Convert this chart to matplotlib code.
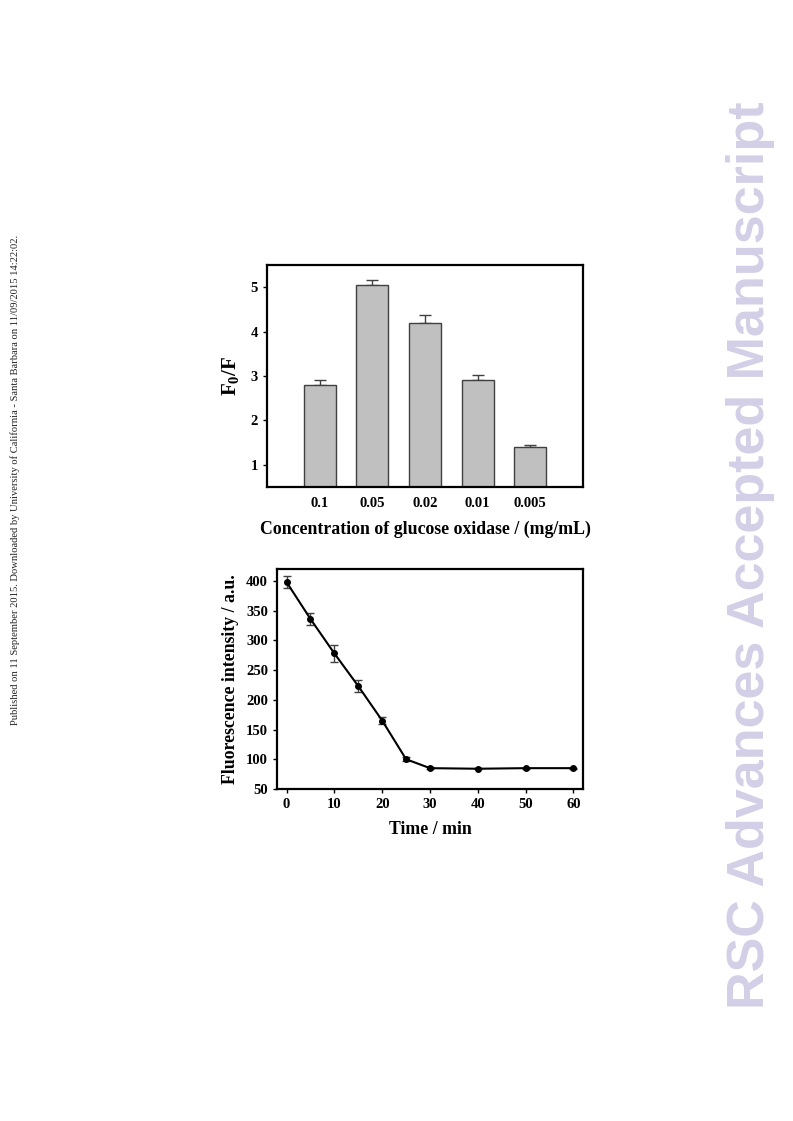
import matplotlib
matplotlib.use("Agg")
import matplotlib.pyplot as plt
import numpy as np

# bar chart data (top panel)
conc_labels = ["0.1", "0.05", "0.02", "0.01", "0.005"]
ratio = [2.8, 5.05, 4.2, 2.9, 1.4]
ratio_err = [0.1, 0.12, 0.17, 0.13, 0.05]

# time course data (bottom panel)
time_min = [0, 5, 10, 15, 20, 25, 30, 40, 50, 60]
intensity = [398, 336, 278, 223, 165, 100, 85, 84, 85, 85]
intensity_err = [10, 10, 14, 10, 6, 3, 2, 1, 1, 1]

plt.rcParams['font.family'] = ['Liberation Serif', 'DejaVu Serif']
plt.rcParams['font.weight'] = 'bold'
plt.rcParams['mathtext.fontset'] = 'custom'
plt.rcParams['mathtext.rm'] = 'Liberation Serif:bold'
plt.rcParams['mathtext.it'] = 'Liberation Serif:bold'
plt.rcParams['mathtext.bf'] = 'Liberation Serif:bold'

fig = plt.figure(figsize=(7.93, 11.21), dpi=100)

# top panel: bars
ax1 = fig.add_axes([0.3367, 0.5656, 0.3985, 0.198])
x = np.arange(len(ratio))
ax1.bar(x, ratio, width=0.61, color='#c0c0c0', edgecolor='#404040', linewidth=1.0, zorder=2)
ax1.errorbar(x, ratio, yerr=[np.zeros(len(ratio_err)), ratio_err], fmt='none',
             ecolor='#404040', elinewidth=1.0, capsize=4, capthick=1.0, zorder=1)
ax1.set_xlim(-1, 5)
ax1.set_ylim(0.5, 5.5)
ax1.set_yticks([1, 2, 3, 4, 5])
ax1.set_xticks(x)
ax1.set_xticklabels(conc_labels)
ax1.tick_params(axis='x', length=0, pad=7, labelsize=10.5)
ax1.tick_params(axis='y', direction='out', length=3, width=1, labelsize=10.5)
ax1.set_xlabel('Concentration of glucose oxidase / (mg/mL)', fontsize=12.8, fontweight='bold', labelpad=8)
ax1.set_ylabel(r'F$_0$/F', fontsize=15, fontweight='bold', labelpad=7)
for s in ax1.spines.values():
    s.set_linewidth(1.6)

# bottom panel: time course
ax2 = fig.add_axes([0.3493, 0.2962, 0.3859, 0.1962])
ax2.errorbar(time_min, intensity, yerr=intensity_err, fmt='-o', color='black',
             ecolor='#404040', markersize=4, linewidth=1.5, elinewidth=1.0,
             capsize=3, capthick=1.0)
ax2.set_xlim(-2, 62)
ax2.set_ylim(50, 420)
ax2.set_xticks([0, 10, 20, 30, 40, 50, 60])
ax2.set_yticks([50, 100, 150, 200, 250, 300, 350, 400])
ax2.tick_params(direction='out', length=3, width=1, labelsize=10.5)
ax2.set_xlabel('Time / min', fontsize=12.8, fontweight='bold', labelpad=7)
ax2.set_ylabel('Fluorescence intensity / a.u.', fontsize=12.8, fontweight='bold', labelpad=5)
for s in ax2.spines.values():
    s.set_linewidth(1.6)

# page decorations
fig.text(0.019, 0.572, 'Published on 11 September 2015. Downloaded by University of California - Santa Barbara on 11/09/2015 14:22:02.',
         rotation=90, ha='center', va='center', fontsize=7.6, fontweight='normal', color='#222222')
fig.text(0.946, 0.505, 'RSC Advances Accepted Manuscript', rotation=90, ha='center', va='center',
         fontsize=37.5, fontweight='bold', color='#d2cfe6', family=['Liberation Sans', 'DejaVu Sans'])

fig.savefig('out.png', dpi=100)
